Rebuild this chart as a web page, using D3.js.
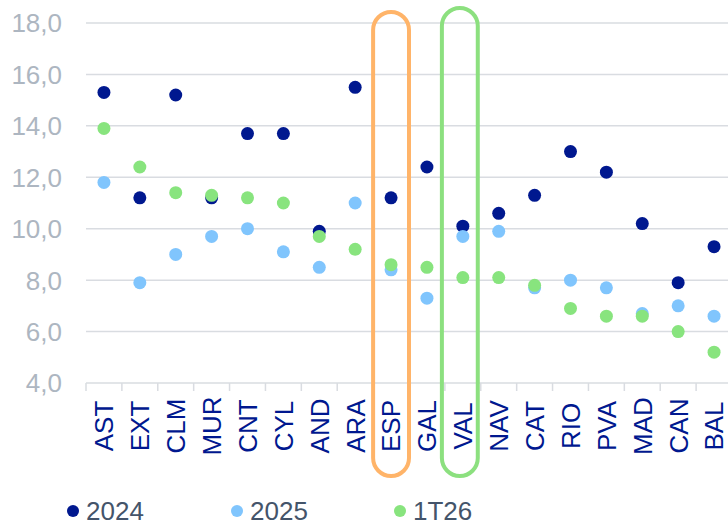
<!DOCTYPE html>
<html>
<head>
<meta charset="utf-8">
<script src="https://cdn.jsdelivr.net/npm/d3@7"></script>
<style>
  html, body { margin: 0; padding: 0; background: #ffffff; }
  svg { display: block; font-family: "Liberation Sans", Arial, sans-serif; }
</style>
</head>
<body>
<svg id="chart" width="728" height="526"></svg>
<script>
// Regions (abbreviations) along the x axis
const categories = ["AST","EXT","CLM","MUR","CNT","CYL","AND","ARA","ESP","GAL","VAL","NAV","CAT","RIO","PVA","MAD","CAN","BAL"];

// Series values per region
const values2024 = [15.3,11.2,15.2,11.2,13.7,13.7,9.9,15.5,11.2,12.4,10.1,10.6,11.3,13.0,12.2,10.2,7.9,9.3];
const values2025 = [11.8,7.9,9.0,9.7,10.0,9.1,8.5,11.0,8.4,7.3,9.7,9.9,7.7,8.0,7.7,6.7,7.0,6.6];
const values1T26 = [13.9,12.4,11.4,11.3,11.2,11.0,9.7,9.2,8.6,8.5,8.1,8.1,7.8,6.9,6.6,6.6,6.0,5.2];

const seriesNames = ["2024","2025","1T26"];
const yTicks = [4,6,8,10,12,14,16,18];
const highlighted = ["ESP","VAL"];

const colors = { "2024": "#00188f", "2025": "#80c5fd", "1T26": "#88e47e" };
const highlightColors = { "ESP": "#ffb469", "VAL": "#8ce07f" };

const series = [
  { name: "2024", values: values2024 },
  { name: "2025", values: values2025 },
  { name: "1T26", values: values1T26 }
];

const svg = d3.select("#chart");

const x = d3.scaleBand().domain(categories).range([86, 732]).padding(0);
const y = d3.scaleLinear().domain([4, 18]).range([383, 23]);

// Horizontal gridlines
svg.append("g")
  .selectAll("line")
  .data(yTicks.filter(t => t > 4))
  .join("line")
  .attr("x1", 86).attr("x2", 728)
  .attr("y1", d => y(d)).attr("y2", d => y(d))
  .attr("stroke", "#d9dce1").attr("stroke-width", 1.5);

// Y axis labels
svg.append("g")
  .selectAll("text")
  .data(yTicks)
  .join("text")
  .attr("x", 62)
  .attr("y", d => y(d))
  .attr("dy", "0.36em")
  .attr("text-anchor", "end")
  .attr("font-size", 26)
  .attr("fill", "#adb6c1")
  .text(d => d3.format(".1f")(d).replace(".", ","));

// X axis with tick marks at category boundaries
const xAxis = svg.append("g").attr("transform", `translate(0,${y(4)})`);
xAxis.append("line")
  .attr("x1", 86).attr("x2", 728)
  .attr("stroke", "#d9dce1").attr("stroke-width", 1.5);
xAxis.selectAll("line.tick")
  .data(categories)
  .join("line")
  .attr("class", "tick")
  .attr("x1", d => x(d)).attr("x2", d => x(d))
  .attr("y1", 0).attr("y2", 8)
  .attr("stroke", "#d9dce1").attr("stroke-width", 1.5);

// Category labels, rotated
svg.append("g")
  .selectAll("text")
  .data(categories)
  .join("text")
  .attr("transform", d => `translate(${x(d) + x.bandwidth() / 2},426) rotate(-90)`)
  .attr("text-anchor", "middle")
  .attr("dy", "0.36em")
  .attr("font-size", 26)
  .attr("fill", "#00188f")
  .text(d => d);

// Dots: 2024 underneath, then 2025, then 1T26 on top
series.forEach(s => {
  svg.append("g")
    .selectAll("circle")
    .data(s.values.map((v, i) => ({ cat: categories[i], v })))
    .join("circle")
    .attr("cx", d => x(d.cat) + x.bandwidth() / 2)
    .attr("cy", d => y(d.v))
    .attr("r", 6.5)
    .attr("fill", colors[s.name]);
});

// Rounded outlines around highlighted regions
const outlineTop = { "ESP": 12, "VAL": 8 };
const outlineShift = { "ESP": 0, "VAL": -3 };
svg.append("g")
  .selectAll("rect")
  .data(highlighted)
  .join("rect")
  .attr("x", d => x(d) + outlineShift[d])
  .attr("y", d => outlineTop[d])
  .attr("width", x.bandwidth())
  .attr("height", d => 476 - outlineTop[d])
  .attr("rx", x.bandwidth() / 2)
  .attr("ry", x.bandwidth() / 2)
  .attr("fill", "none")
  .attr("stroke", d => highlightColors[d])
  .attr("stroke-width", 4);

// Legend
const legendX = [73, 237, 400];
const legend = svg.append("g")
  .selectAll("g")
  .data(seriesNames)
  .join("g")
  .attr("transform", (d, i) => `translate(${legendX[i]},511)`);
legend.append("circle")
  .attr("r", 6)
  .attr("fill", d => colors[d]);
legend.append("text")
  .attr("x", 13)
  .attr("dy", "0.36em")
  .attr("font-size", 26)
  .attr("fill", "#44546a")
  .text(d => d);
</script>
</body>
</html>
